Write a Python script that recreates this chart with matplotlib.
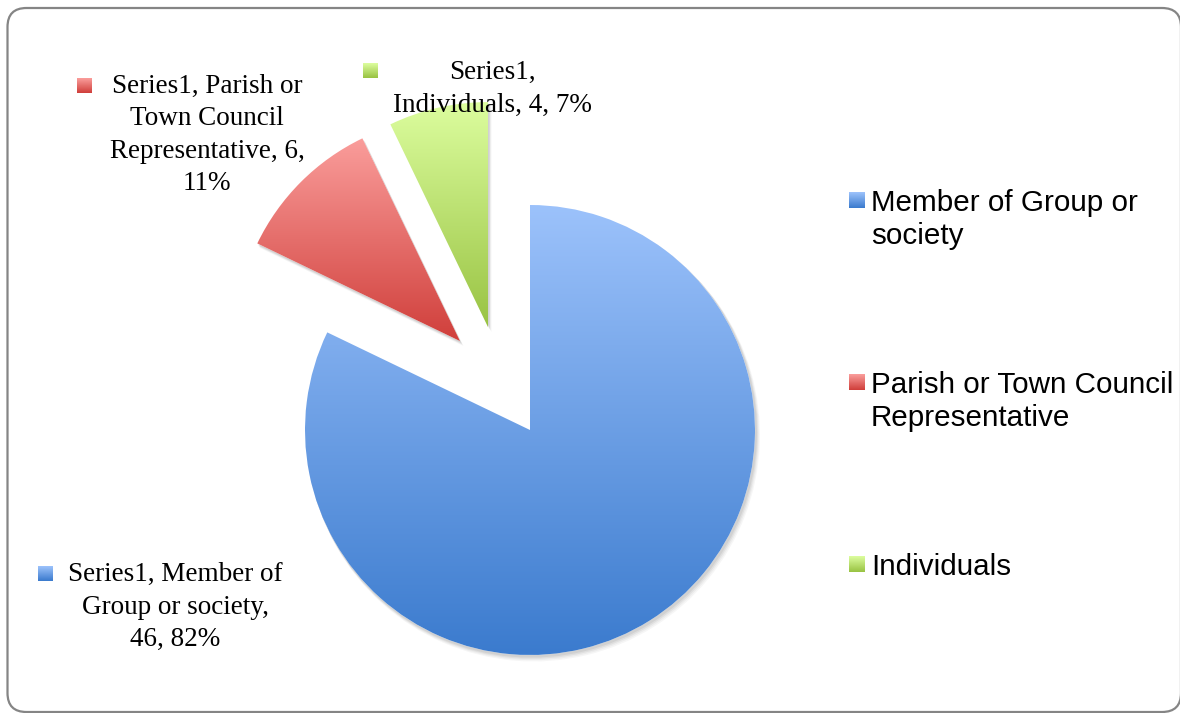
import numpy as np
import matplotlib
matplotlib.use("Agg")
import matplotlib.pyplot as plt
from matplotlib.colors import LinearSegmentedColormap
from matplotlib.patches import FancyBboxPatch, Wedge
from matplotlib.transforms import IdentityTransform

# ---- data ----
categories = ["Member of Group or society",
              "Parish or Town Council Representative",
              "Individuals"]
values = [46, 6, 4]
percents = [82, 11, 7]
series_name = "Series1"
legend_labels = ["Member of Group or\nsociety",
                 "Parish or Town Council\nRepresentative",
                 "Individuals"]
data_labels = ["Series1, Member of\nGroup or society,\n46, 82%",
               "Series1, Parish or\nTown Council\nRepresentative, 6,\n11%",
               "Series1,\nIndividuals, 4, 7%"]

# ---- style ----
grad_top = ["#9cc2fb", "#fa9d9b", "#dcfd9e"]
grad_bot = ["#3b7bce", "#d03f3b", "#99c343"]
explode_dist = [0.0, 0.503, 0.494]      # in radii
explode_angle = [0.0, 128.2, 112.2]     # degrees

W, H = 1180, 713
CX, CY, R = 530, 430, 225

fig = plt.figure(figsize=(W / 100, H / 100), dpi=100)
ax = fig.add_axes([0, 0, 1, 1])


def P(x, y):
    return ((x - CX) / R, (CY - y) / R)


wedges, _ = ax.pie(values, startangle=90, counterclock=False, radius=1,
                   wedgeprops=dict(linewidth=0))

for i, w in enumerate(wedges):
    a = np.deg2rad(explode_angle[i])
    c = (explode_dist[i] * np.cos(a), explode_dist[i] * np.sin(a))
    w.set_center(c)
    w.set_facecolor("none")
    w.set_edgecolor("none")
    w.set_zorder(3)
    # soft shadow
    for k, al in [(5, 0.035), (4, 0.04), (3, 0.05), (2, 0.06)]:
        s = Wedge((c[0] + k * 0.7 / R, c[1] - k / R), 1.0 + k * 0.3 / R,
                  w.theta1, w.theta2, facecolor="black", edgecolor="none",
                  alpha=al, zorder=1)
        ax.add_patch(s)
    base = Wedge(c, 1.0, w.theta1, w.theta2, facecolor="white",
                 edgecolor="none", zorder=2)
    ax.add_patch(base)
    bb = w.get_path().get_extents()
    cmap = LinearSegmentedColormap.from_list("g%d" % i, [grad_top[i], grad_bot[i]])
    grad = np.linspace(0, 1, 256).reshape(-1, 1)
    im = ax.imshow(grad, cmap=cmap, aspect="auto", origin="upper",
                   extent=(bb.x0, bb.x1, bb.y0, bb.y1), zorder=3,
                   interpolation="bilinear")
    im.set_clip_path(w)


def gradient_square(x0, y0, size, i):
    xa, ya = P(x0, y0)
    xb, yb = P(x0 + size, y0 + size)
    cmap = LinearSegmentedColormap.from_list("s%d" % i, [grad_top[i], grad_bot[i]])
    grad = np.linspace(0, 1, 32).reshape(-1, 1)
    ax.imshow(grad, cmap=cmap, aspect="auto", origin="upper",
              extent=(xa, xb, yb, ya), zorder=5, interpolation="bilinear")


# ---- data labels ----
label_font = dict(family=["Liberation Serif", "DejaVu Serif"], size=19.5)
label_centers = [(175, 607), (207, 135), (492, 89)]
label_keys = [(38, 566), (77, 78), (363, 63)]
for i in range(3):
    ax.text(*P(*label_centers[i]), data_labels[i], ha="center", va="center",
            multialignment="center", linespacing=1.38, color="black",
            zorder=6, **label_font)
    gradient_square(label_keys[i][0], label_keys[i][1], 15, i)

# ---- legend ----
legend_font = dict(family=["Liberation Sans", "DejaVu Sans"], size=21.3)
legend_key_y = [192, 374, 556]
for i in range(3):
    gradient_square(849, legend_key_y[i], 16, i)
    ax.text(*P(871, legend_key_y[i] - 3), legend_labels[i], ha="left", va="top",
            linespacing=1.22, color="black", zorder=6, **legend_font)

ax.set_xlim(-CX / R, (W - CX) / R)
ax.set_ylim(-(H - CY) / R, CY / R)
ax.set_aspect("auto")
ax.axis("off")

# ---- outer rounded frame (pixel coordinates, origin bottom-left) ----
fx0, fx1, fy_top, fy_bot = 7.5, 1181.0, 8.0, 712.0
frame = FancyBboxPatch((fx0, H - fy_bot), fx1 - fx0, fy_bot - fy_top,
                       boxstyle="round,pad=0,rounding_size=19",
                       transform=IdentityTransform(), facecolor="none",
                       edgecolor="#858585", linewidth=1.6)
fig.patches.append(frame)

fig.savefig("out.png", dpi=100)
